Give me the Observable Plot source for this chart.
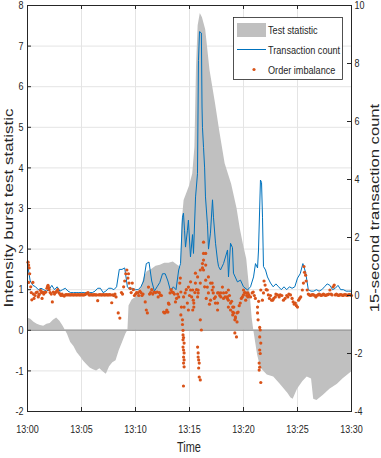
<!DOCTYPE html>
<html><head><meta charset="utf-8">
<script src="https://cdn.jsdelivr.net/npm/d3@7"></script>
<script src="https://cdn.jsdelivr.net/npm/@observablehq/plot@0.6"></script>
<style>
body{margin:0;background:#fff}
#chart svg{font-family:"Liberation Sans",Arial,Helvetica,sans-serif}
</style>
</head><body><div id="chart"></div>
<script>
// ---- axis ticks ----
const xTicks=[0,5,10,15,20,25,30];
const xTickLabels=["13:00","13:05","13:10","13:15","13:20","13:25","13:30"];
const leftTicks=[-2,-1,0,1,2,3,4,5,6,7,8];
const rightTicks=[-4,-2,0,2,4,6,8,10];
const seriesNames=["Test statistic","Transaction count","Order imbalance"];

// ---- test statistic (left axis), minutes after 13:00 ----
const grayTime=[0,0.3,0.6,0.9,1.2,1.5,1.8,2.1,2.4,2.7,3.0,3.3,3.5,3.7,4.0,4.3,4.6,4.9,5.2,5.5,5.8,6.1,6.4,6.7,7.0,7.3,7.6,7.9,8.2,8.5,8.8,9.1,9.3,9.4,9.7,10.0,10.3,10.6,10.8,11.1,11.5,11.9,12.3,12.7,13.1,13.5,13.9,14.2,14.3,14.5,15.0,15.3,15.5,15.65,15.8,16.0,16.2,16.5,16.9,17.4,17.8,18.3,18.9,19.4,19.7,20.0,20.3,20.5,20.65,20.8,20.95,21.3,21.6,22.2,22.8,23.4,24.1,24.4,24.6,25.0,25.5,25.9,26.3,26.5,26.8,27.4,28.0,28.7,29.2,30.0];
const grayValue=[0.3,0.27,0.2,0.15,0.12,0.1,0.15,0.17,0.25,0.3,0.22,0.1,0.0,-0.1,-0.3,-0.4,-0.55,-0.65,-0.76,-0.85,-0.93,-0.97,-1.0,-0.95,-1.02,-1.08,-0.9,-0.8,-0.75,-0.5,-0.3,-0.1,0.0,0.6,0.75,0.8,0.9,1.1,1.3,1.45,1.5,1.58,1.6,1.65,1.65,1.68,1.6,1.55,2.6,3.2,3.55,3.85,4.5,6.5,7.5,7.8,7.7,7.4,6.4,5.6,4.9,4.1,3.6,3.0,2.5,2.1,1.75,1.2,0.8,0.3,0.0,-0.6,-0.93,-1.1,-1.15,-1.33,-1.55,-1.67,-1.7,-1.45,-1.26,-1.15,-1.2,-1.7,-1.73,-1.6,-1.45,-1.33,-1.2,-1.03];

// ---- 15-second transaction count (right axis) ----
const blueTime=[0,0.25,0.5,0.75,1,1.25,1.5,1.75,2,2.25,2.5,2.75,3,3.25,3.5,3.75,
4,4.25,4.5,4.75,5,5.25,5.5,5.75,6,6.25,6.5,6.75,7,7.25,7.5,7.75,
8,8.25,8.5,8.75,9,9.25,9.5,9.75,10,10.25,10.5,10.75,11,11.25,11.5,11.75,
12,12.25,12.5,12.75,13,13.25,13.5,13.75,
14.0,14.17,14.35,14.44,14.54,14.63,14.81,14.9,15.09,15.28,15.37,15.56,15.74,15.83,15.93,16.1,16.16,16.2,16.3,16.4,16.48,16.67,16.76,16.94,17.13,17.22,17.41,17.59,17.69,17.87,18.15,18.52,18.61,18.8,18.98,19.07,19.44,19.72,20.0,20.37,20.65,20.93,21.11,21.3,21.39,21.57,21.67,21.76,21.85,22.04,22.22,22.5,
22.75,23,23.25,23.5,23.75,24,24.25,24.5,24.75,25,25.25,25.5,25.75,26,26.25,26.5,26.75,27,27.25,27.5,27.75,28,28.25,28.5,28.75,29,29.25,29.5,29.75,30];
const blueValue=[1.1,0.5,0.35,0.3,0.2,0.25,0.2,0.15,0.2,0.35,0.2,0.3,0.15,0.2,0.25,0.15,
0.1,0.1,0.1,0.1,0.1,0.1,0.1,0.1,0.1,0.15,0.25,0.25,0.1,0.15,0.25,0.25,
0.2,0.3,0.9,0.9,0.95,0.3,0.2,0.25,0.2,0.2,0.3,0.5,1.1,1.15,0.5,0.15,
0.3,0.45,0.75,0.75,0.5,0.15,0.3,0.2,
0.88,1.1,2.7,2.84,2.25,1.67,2.25,2.6,1.33,2.1,1.45,3.4,4.2,8.1,9.1,9.05,6.5,5.8,5.1,4.4,3.4,2.4,1.6,2.15,3.3,2.7,1.8,1.22,1.0,0.88,1.1,1.57,0.64,1.8,1.65,0.77,0.47,0.53,0.3,0.19,0.3,0.64,1.1,0.95,1.57,3.98,3.9,2.7,1.0,0.88,0.64,0.43,
0.3,0.4,0.3,0.2,0.3,0.2,0.3,0.25,0.3,0.6,0.75,1.1,0.8,0.2,0.15,0.15,0.2,0.15,0.2,0.3,0.4,0.35,0.2,0.25,0.35,0.2,0.2,0.15,0.15,0.15];

// ---- order imbalance (right axis) ----
const orangeTime=[0.05,0.1,0.15,0.2,0.1,0.3,0.35,0.4,0.5,0.55,0.6,0.7,
0.8,0.9,1.0,1.05,1.1,1.2,1.3,1.35,1.4,1.5,1.6,1.7,1.8,1.85,1.9,1.95,2.0,2.1,2.2,2.3,2.4,2.5,2.6,2.7,2.8,2.9,3.0,3.1,3.2,3.3,3.4,
3.5,3.6,3.7,3.8,3.9,4.0,4.1,4.2,4.3,4.4,4.5,4.6,4.7,4.8,4.9,5.0,5.1,5.2,5.3,5.4,5.5,5.6,5.7,5.8,5.9,6.0,6.1,6.2,6.3,6.4,6.5,6.6,6.7,6.8,6.9,7.0,7.1,7.2,7.3,7.4,7.5,7.6,7.7,7.8,7.9,
8.0,8.1,8.2,8.4,8.55,8.7,8.8,8.9,9.0,9.1,9.2,9.3,9.35,9.4,9.5,9.6,
9.7,9.8,9.9,10.0,10.1,10.2,10.3,10.4,10.5,10.6,10.7,10.9,11.0,11.1,11.2,11.3,11.4,11.5,11.6,11.7,11.85,12.0,12.1,12.2,12.3,12.4,12.6,12.7,12.8,12.9,13.0,13.05,13.1,13.2,13.3,13.4,13.5,13.6,13.7,13.8,13.9,14.0,14.1,14.15,14.2,14.2,14.25,14.35,
14.35,14.4,14.4,14.45,14.4,14.5,14.4,14.45,14.5,14.45,14.5,14.45,14.5,14.44,
14.45,14.5,14.6,14.7,14.8,14.9,14.9,15.0,15.1,15.1,15.2,15.3,15.3,15.35,15.4,15.4,15.5,15.55,15.55,15.65,15.75,15.75,15.8,15.8,
16.0,16.1,15.75,15.8,15.8,15.85,15.9,15.85,15.9,16.0,
16.0,16.0,16.2,16.2,16.3,16.3,16.3,16.3,16.4,16.5,16.5,16.5,16.55,16.65,16.75,16.75,16.85,16.95,16.95,17.1,17.1,17.2,17.2,17.3,17.4,17.4,17.6,17.6,17.6,17.7,17.8,17.9,17.9,18.05,18.15,18.15,18.3,18.4,18.5,18.5,18.6,18.6,18.6,18.7,18.8,18.8,18.9,19.0,19.0,19.0,19.1,19.1,19.2,19.2,19.25,19.25,19.35,19.4,19.4,19.5,19.6,19.7,19.8,19.9,20.0,20.0,20.1,20.2,20.2,20.3,20.4,20.4,20.5,20.65,20.8,20.9,21.0,21.1,
21.3,21.3,21.35,21.5,21.55,21.5,21.6,21.5,21.55,21.45,21.5,21.45,21.6,21.6,21.4,21.75,21.85,21.9,22.0,22.1,22.2,22.3,
22.4,22.5,22.6,22.7,22.8,22.95,23.0,23.15,23.3,23.4,23.55,23.7,23.85,24.0,24.1,24.2,24.35,24.5,24.6,24.7,24.8,24.9,25.0,25.1,25.2,25.3,25.45,25.55,25.6,25.65,25.75,25.8,25.9,
26.0,26.1,26.2,26.3,26.4,26.5,26.6,26.7,26.8,26.9,27.0,27.1,27.2,27.3,27.4,27.5,27.6,27.7,27.8,27.9,28.0,28.1,28.2,28.3,28.4,28.5,28.6,28.7,28.8,28.9,29.0,29.1,29.2,29.3,29.4,29.5,29.6,29.7,29.8,29.9,30.0];
const orangeValue=[1.15,1.05,0.95,0.75,0.45,0.3,0.1,-0.15,0.45,0.05,-0.1,0.0,
0.1,0.12,-0.05,0.02,0.05,0.18,0.1,-0.1,0.12,0.05,0.1,0.12,0.25,0.3,0.35,0.28,0.2,0.1,0.05,-0.22,0.12,0.05,0.1,0.15,0.2,0.1,0.05,0.0,0.05,0.0,-0.02,
0.02,0.03,0.02,0.03,0.02,0.02,0.03,0.02,0.02,0.03,0.02,0.02,0.03,0.02,0.02,0.03,0.02,0.02,0.03,0.05,0.07,0.1,0.02,0.02,0.03,0.02,0.02,0.03,0.02,0.02,-0.18,0.02,0.03,0.02,0.02,0.03,0.02,0.02,0.03,0.02,0.02,0.03,0.02,-0.25,0.02,
0.0,0.05,-0.05,-0.6,-0.78,0.1,0.05,0.3,0.5,0.75,0.88,0.6,0.75,0.43,0.25,0.1,
0.43,0.2,0.0,0.05,0.1,0.09,0.0,0.15,0.1,0.0,0.05,-0.22,-0.5,-0.6,0.29,0.05,0.1,0.2,0.05,0.12,0.1,0.12,-0.05,0.1,0.02,0.0,-0.57,-0.6,-0.57,-0.5,-0.57,-0.26,-0.3,0.09,0.2,0.12,0.1,0.05,-0.22,-0.1,0.05,-0.05,0.43,0.6,0.12,-0.67,-0.4,-0.84,
-1.0,-1.2,-1.36,-1.45,-1.53,-1.64,-1.78,-1.88,-1.98,-2.12,-2.22,-2.33,-2.46,-3.12,
-0.05,-0.4,0.09,0.2,-0.26,0.29,-0.5,0.0,0.47,0.19,-0.05,-0.5,0.19,-0.16,-0.26,-0.4,0.1,0.77,0.43,0.2,0.64,-0.05,0.19,0.09,
-0.84,-1.19,-1.78,-1.98,-2.12,-2.22,-2.33,-2.5,-2.81,-2.91,
0.88,0.43,1.1,0.95,1.84,1.45,1.22,0.88,0.3,1.45,1.05,0.53,-0.1,0.29,0.64,0.09,-0.3,0.43,-0.16,0.43,0.19,0.29,0.09,-0.1,-0.05,-0.26,-0.26,-0.5,0.09,0.09,0.0,-0.05,0.09,0.29,0.09,-0.1,-0.05,0.1,-0.1,-0.05,-0.16,0.19,-0.4,0.0,-0.26,-0.5,-0.2,-0.4,-0.57,-0.67,-0.6,-0.4,-0.84,-1.29,-0.74,-0.78,-1.43,-0.91,-0.6,-0.57,-0.35,-0.26,-0.1,-0.05,0.19,0.02,0.1,0.09,-0.16,0.0,-0.05,0.09,0.02,-0.05,0.09,0.12,0.0,-0.1,
-0.4,-0.6,-0.84,-1.1,-1.19,-1.43,-1.64,-1.88,-2.0,-2.33,-2.47,-2.57,-3.0,0.19,-0.2,-0.16,0.09,0.5,0.36,0.2,0.19,0.02,
-0.1,0.0,-0.16,-0.16,-0.1,-0.05,0.05,0.02,-0.05,0.02,0.0,-0.16,-0.1,0.0,-0.05,0.05,0.02,-0.1,-0.22,-0.3,-0.26,-0.35,-0.4,-0.16,-0.1,-0.05,0.19,0.43,1.0,0.8,0.7,0.5,0.19,
0.05,0.02,0.0,0.02,0.03,0.02,0.0,-0.05,0.0,0.02,0.05,0.02,0.0,0.02,0.05,0.02,0.0,0.02,0.03,0.05,0.19,0.05,0.02,0.3,0.36,0.02,0.05,0.02,0.0,0.02,0.03,0.02,0.0,0.02,0.03,0.02,0.0,0.02,0.03,0.02,0.0];

// ---- mapping of the right axis (-4..10) onto the left axis (-2..8) ----
const toLeft = r => (r + 4) / 1.4 - 2;
const toRight = l => (l + 2) * 1.4 - 4;

const gray = grayTime.map((m, i) => ({m, v: grayValue[i]}));
const blue = blueTime.map((m, i) => ({m, v: toLeft(blueValue[i])}));
const orange = orangeTime.map((m, i) => ({m, v: toLeft(orangeValue[i])}));
const rightPos = rightTicks.map(toLeft);

const FONT = '"Liberation Sans",Arial,Helvetica,sans-serif';
const INK = "#262626";

const chart = Plot.plot({
  width: 381, height: 458,
  marginLeft: 27, marginRight: 30, marginTop: 5, marginBottom: 47,
  style: {fontFamily: FONT, fontSize: "11.5px", color: INK, background: "#fff"},
  x: {domain: [0, 30]},
  y: {domain: [-2, 8]},
  marks: [
    Plot.gridX(xTicks.slice(1, -1), {stroke: "#e4e4e4", strokeOpacity: 1}),
    Plot.gridY(leftTicks.slice(1, -1), {stroke: "#e4e4e4", strokeOpacity: 1}),
    Plot.areaY(gray, {x: "m", y: "v", fill: "#c0c0c0"}),
    Plot.ruleY([0], {stroke: "#a2a2a2", strokeWidth: 1.5}),
    Plot.line(blue, {x: "m", y: "v", curve: "linear", stroke: "#0072BD", strokeWidth: 1}),
    Plot.dot(orange, {x: "m", y: "v", r: 1.6, fill: "#D95319", stroke: null}),
    Plot.frame({stroke: INK, strokeWidth: 1}),
    Plot.ruleX(xTicks, {stroke: INK, insetTop: 402}),
    Plot.ruleX(xTicks, {stroke: INK, insetBottom: 402}),
    Plot.ruleY(leftTicks, {stroke: INK, insetRight: 320}),
    Plot.ruleY(rightPos, {stroke: INK, insetLeft: 320}),
    Plot.axisX(xTicks, {tickSize: 0, tickPadding: 13, tickFormat: d => xTickLabels[xTicks.indexOf(d)], label: null}),
    Plot.axisY(leftTicks, {anchor: "left", tickSize: 0, tickPadding: 4, tickFormat: d => String(d), label: null}),
    Plot.axisY(rightPos, {anchor: "right", tickSize: 0, tickPadding: 3, tickFormat: d => String(Math.round(toRight(d))), label: null})
  ]
});
document.getElementById("chart").appendChild(chart);

const svg = d3.select(chart);
const SQ = 0.78;
function squish(node, k) {
  const n = node.getComputedTextLength();
  if (n > 0) { node.setAttribute("textLength", (n * k).toFixed(2)); node.setAttribute("lengthAdjust", "spacingAndGlyphs"); }
}
svg.selectAll("text").each(function() { squish(this, SQ); });

// axis titles
svg.append("text").text("Time")
  .attr("x", 189).attr("y", 452).attr("text-anchor", "middle")
  .attr("font-size", 14).attr("fill", INK)
  .each(function() { squish(this, SQ); });
svg.append("text").text("Intensity burst test statistic")
  .attr("transform", "translate(12.5,208) scale(0.78,1) rotate(-90)")
  .attr("text-anchor", "middle").attr("font-size", 17).attr("fill", INK);
svg.append("text").text("15-second transaction count")
  .attr("transform", "translate(379,208) scale(0.72,1) rotate(-90)")
  .attr("text-anchor", "middle").attr("font-size", 16.6).attr("fill", INK);

// legend
const lg = svg.append("g").attr("text-anchor", "start");
lg.append("rect").attr("x", 233.5).attr("y", 17.5).attr("width", 109).attr("height", 62)
  .attr("fill", "#fff").attr("stroke", INK).attr("stroke-width", 0.8);
lg.append("rect").attr("x", 237).attr("y", 23).attr("width", 29).attr("height", 14).attr("fill", "#c0c0c0");
lg.append("line").attr("x1", 237).attr("x2", 266).attr("y1", 49.5).attr("y2", 49.5).attr("stroke", "#0072BD").attr("stroke-width", 1);
lg.append("circle").attr("cx", 254).attr("cy", 69.5).attr("r", 1.6).attr("fill", "#D95319");
[30, 50, 70].forEach((cy, i) => {
  lg.append("text").text(seriesNames[i]).attr("x", 268).attr("y", cy).attr("dy", "0.36em")
    .attr("text-anchor", "start").attr("font-size", 11.7).attr("fill", INK)
    .each(function() { squish(this, SQ); });
});
</script></body></html>
